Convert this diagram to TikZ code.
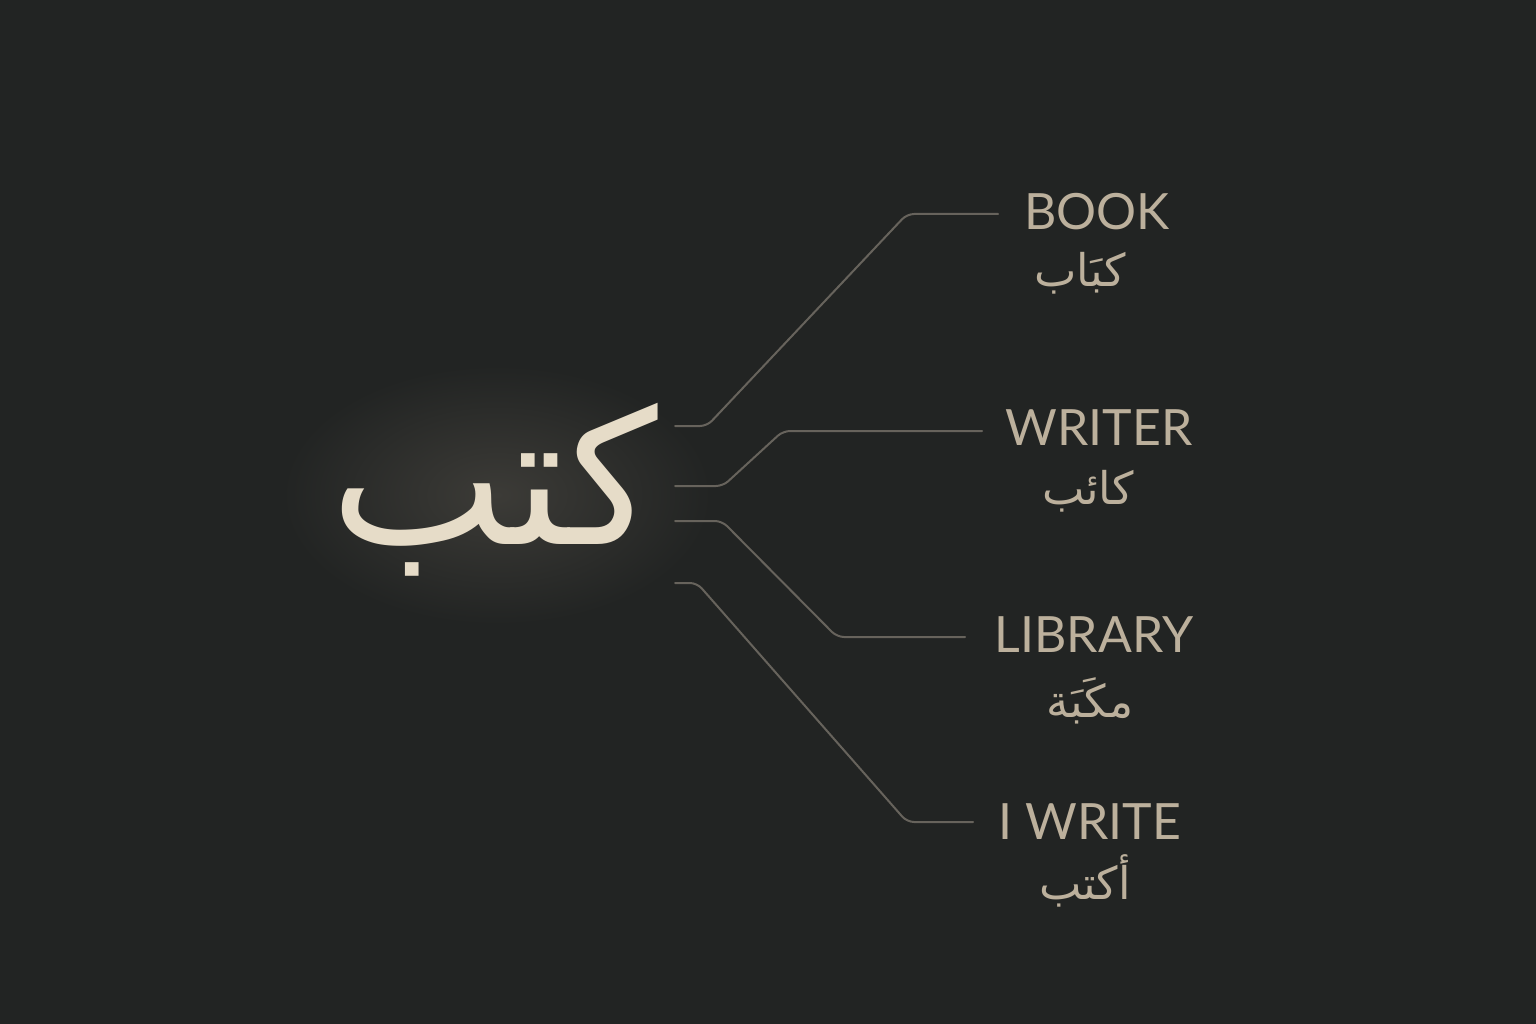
\documentclass[tikz,border=0pt]{standalone}
\usepackage{fontspec}
\setmainfont{Lato}
\newfontfamily\arabicfont[Script=Arabic]{DejaVu Sans}
\TeXXeTstate=1
\definecolor{bgc}{HTML}{222423}
\definecolor{linec}{HTML}{67635C}
\definecolor{labelc}{HTML}{BCB09C}
\definecolor{mainc}{HTML}{E6DCC8}
\definecolor{glowc}{HTML}{3C3B37}
\tikzset{
  en/.style={text=labelc, font=\fontsize{50}{60}\selectfont, inner sep=0pt, anchor=center},
  ar/.style={text=labelc, font=\arabicfont\fontsize{45}{52}\selectfont, inner sep=0pt, anchor=center},
  conn/.style={draw=linec, line width=2pt, rounded corners=7pt, line cap=round}
}
\begin{document}
\begin{tikzpicture}[x=1pt,y=-1pt]
\fill[bgc] (0,0) rectangle (1536,1024);
\useasboundingbox (0,0) rectangle (1536,1024);
% glow
\shade[inner color=glowc, outer color=bgc] (497,495) ellipse [x radius=215, y radius=130];
% main word
\node[text=mainc, font=\arabicfont\fontsize{186}{200}\selectfont, inner sep=0pt] (main) at (494,490) {\beginR كتب\endR};
% labels
\node[en] (book) at (1097,212) {BOOK};
\node[ar] (bookar) at (1080,273) {\beginR كبَاب\endR};
\node[en] (writer) at (1099,428) {WRITER};
\node[ar] (writerar) at (1088,491) {\beginR كائب\endR};
\node[en] (library) at (1094,635) {LIBRARY};
\node[ar] (libraryar) at (1090,701) {\beginR مكَبَة\endR};
\node[en] (iwrite) at (1090,822) {I WRITE};
\node[ar] (iwritear) at (1085,881) {\beginR أكتب\endR};
% connector endpoints
\coordinate (s1) at (675,426);
\coordinate (s2) at (675,486);
\coordinate (s3) at (675,521);
\coordinate (s4) at (675,583);
\coordinate (e1) at (998,214);
\coordinate (e2) at (982,431);
\coordinate (e3) at (965,637);
\coordinate (e4) at (973,822);
\draw[conn] (s1) -- (707,426) -- (907,214) -- (e1);
\draw[conn] (s2) -- (723,486) -- (783,431) -- (e2);
\draw[conn] (s3) -- (722,521) -- (837,637) -- (e3);
\draw[conn] (s4) -- (697,583) -- (907,822) -- (e4);
\end{tikzpicture}
\end{document}
